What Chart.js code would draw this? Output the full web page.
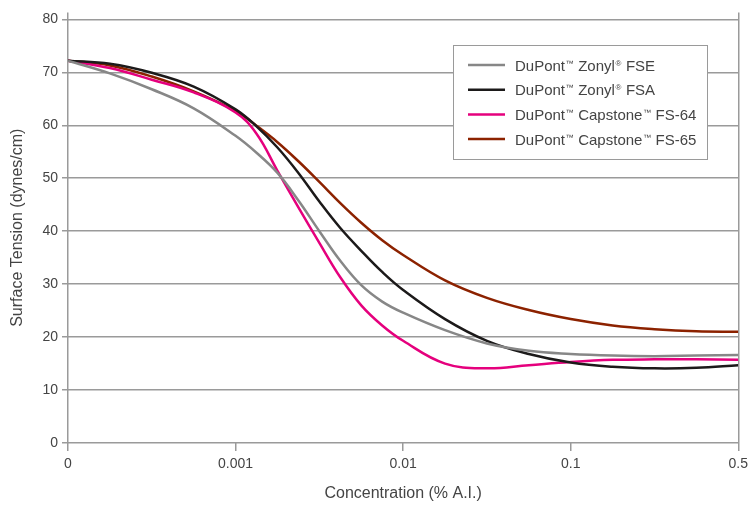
<!DOCTYPE html>
<html>
<head>
<meta charset="utf-8">
<script src="https://cdn.jsdelivr.net/npm/chart.js@4"></script>
<style>
html,body{margin:0;padding:0;background:#fff;}
#wrap{width:753px;height:506px;}
</style>
</head>
<body>
<div id="wrap"><canvas id="c" width="753" height="506"></canvas></div>
<script>
// x positions on the evenly spaced concentration axis (0, 0.001, 0.01, 0.1, 0.5 at 0..4)
const xPos = [0, 0.25, 0.5, 0.75, 1.0, 1.125, 1.25, 1.375, 1.5, 1.625, 1.75, 1.875, 2.0, 2.25, 2.5, 2.75, 3.0, 3.25, 3.5, 3.75, 4.0];
const xTickLabels = ["0", "0.001", "0.01", "0.1", "0.5"];
const seriesNames = ["DuPont™ Zonyl® FSE", "DuPont™ Zonyl® FSA", "DuPont™ Capstone™ FS-64", "DuPont™ Capstone™ FS-65"];
const fse  = [72.2, 69.8, 66.8, 63.2, 58.0, 54.8, 51.0, 45.8, 40.0, 34.4, 29.8, 26.7, 24.6, 21.3, 18.8, 17.4, 16.8, 16.5, 16.4, 16.5, 16.6];
const fsa  = [72.2, 71.6, 69.9, 67.3, 63.0, 59.8, 55.8, 51.0, 45.6, 40.6, 36.3, 32.3, 28.9, 23.4, 19.3, 16.8, 15.2, 14.4, 14.1, 14.2, 14.7];
const fs64 = [72.2, 70.8, 68.6, 66.2, 62.4, 58.4, 51.4, 44.5, 37.8, 31.3, 26.0, 22.2, 19.3, 15.0, 14.1, 14.7, 15.3, 15.7, 15.8, 15.8, 15.7];
const fs65 = [72.2, 71.3, 69.2, 66.4, 62.7, 59.9, 56.8, 53.2, 49.3, 45.3, 41.6, 38.3, 35.5, 30.7, 27.4, 25.1, 23.4, 22.2, 21.5, 21.1, 21.0];
const yTicks = [0, 10, 20, 30, 40, 50, 60, 70, 80];

const colors = ["#878787", "#1c1a1a", "#e5007d", "#8c2200"];
const seriesVals = [fse, fsa, fs64, fs65];
const FONT = "'Liberation Sans', Arial, sans-serif";
const TXT = "#444";
const GRID = "#9a9a9a";

const datasets = seriesVals.map((vals, i) => ({
  label: seriesNames[i],
  data: vals.map((v, j) => ({x: xPos[j], y: v})),
  borderColor: colors[i],
  backgroundColor: colors[i],
  borderWidth: 2.5,
  pointRadius: 0,
  tension: 0.4,
  fill: false
}));

function drawLabel(ctx, text, x, y) {
  const big = "15px " + FONT, small = "8px " + FONT;
  let cx = x;
  for (const ch of text) {
    if (ch === '™' || ch === '®') {
      ctx.font = small;
      ctx.fillText(ch, cx + 0.5, y - 5);
      cx += ctx.measureText(ch).width + 1;
    } else {
      ctx.font = big;
      ctx.fillText(ch, cx, y);
      cx += ctx.measureText(ch).width;
    }
  }
}

const legendBox = {
  id: 'legendBox',
  afterDatasetsDraw(chart) {
    const ctx = chart.ctx;
    const x0 = 453, y0 = 45, w = 254, h = 114;
    ctx.save();
    ctx.fillStyle = '#fff';
    ctx.fillRect(x0, y0, w, h);
    ctx.strokeStyle = GRID;
    ctx.lineWidth = 1;
    ctx.strokeRect(x0 + 0.5, y0 + 0.5, w, h);
    ctx.textBaseline = 'alphabetic';
    chart.data.datasets.forEach((ds, i) => {
      const yy = 65 + i * 24.7;
      ctx.strokeStyle = ds.borderColor;
      ctx.lineWidth = 2.5;
      ctx.beginPath();
      ctx.moveTo(468, yy);
      ctx.lineTo(505, yy);
      ctx.stroke();
      ctx.fillStyle = TXT;
      drawLabel(ctx, ds.label, 515, yy + 5.5);
    });
    ctx.restore();
  }
};

new Chart(document.getElementById('c'), {
  type: 'line',
  data: { datasets },
  plugins: [legendBox],
  options: {
    responsive: false,
    animation: false,
    layout: { padding: { top: 9, right: 14, left: 0, bottom: 0 } },
    plugins: { legend: { display: false }, tooltip: { enabled: false } },
    scales: {
      x: {
        type: 'linear',
        min: 0, max: 4,
        afterBuildTicks: s => { s.ticks = xTickLabels.map((_, i) => ({value: i})); },
        afterFit: s => { s.height = 63; },
        ticks: {
          callback: (v) => xTickLabels[v] ?? '',
          color: TXT, font: { family: FONT, size: 14 }, padding: 5, maxRotation: 0
        },
        grid: {
          color: c => (c.index === 0 || c.index === 4) ? GRID : 'transparent',
          tickColor: GRID, tickLength: 8, lineWidth: 1.5, drawOnChartArea: true
        },
        border: { display: false },
        title: { display: true, text: 'Concentration (% A.I.)', color: TXT, font: { family: FONT, size: 16 }, padding: { top: 4, bottom: 3 } }
      },
      y: {
        type: 'linear',
        min: 0, max: 81.31,
        afterBuildTicks: s => { s.ticks = yTicks.map(v => ({value: v})); },
        afterFit: s => { s.width = 68; },
        ticks: { color: TXT, font: { family: FONT, size: 14 }, padding: 4 },
        grid: { color: GRID, tickColor: GRID, tickLength: 6, lineWidth: 1.5 },
        border: { display: false },
        title: { display: true, text: 'Surface Tension (dynes/cm)', color: TXT, font: { family: FONT, size: 16 }, padding: { top: 8, bottom: 4 } }
      }
    }
  }
});
</script>
</body>
</html>
